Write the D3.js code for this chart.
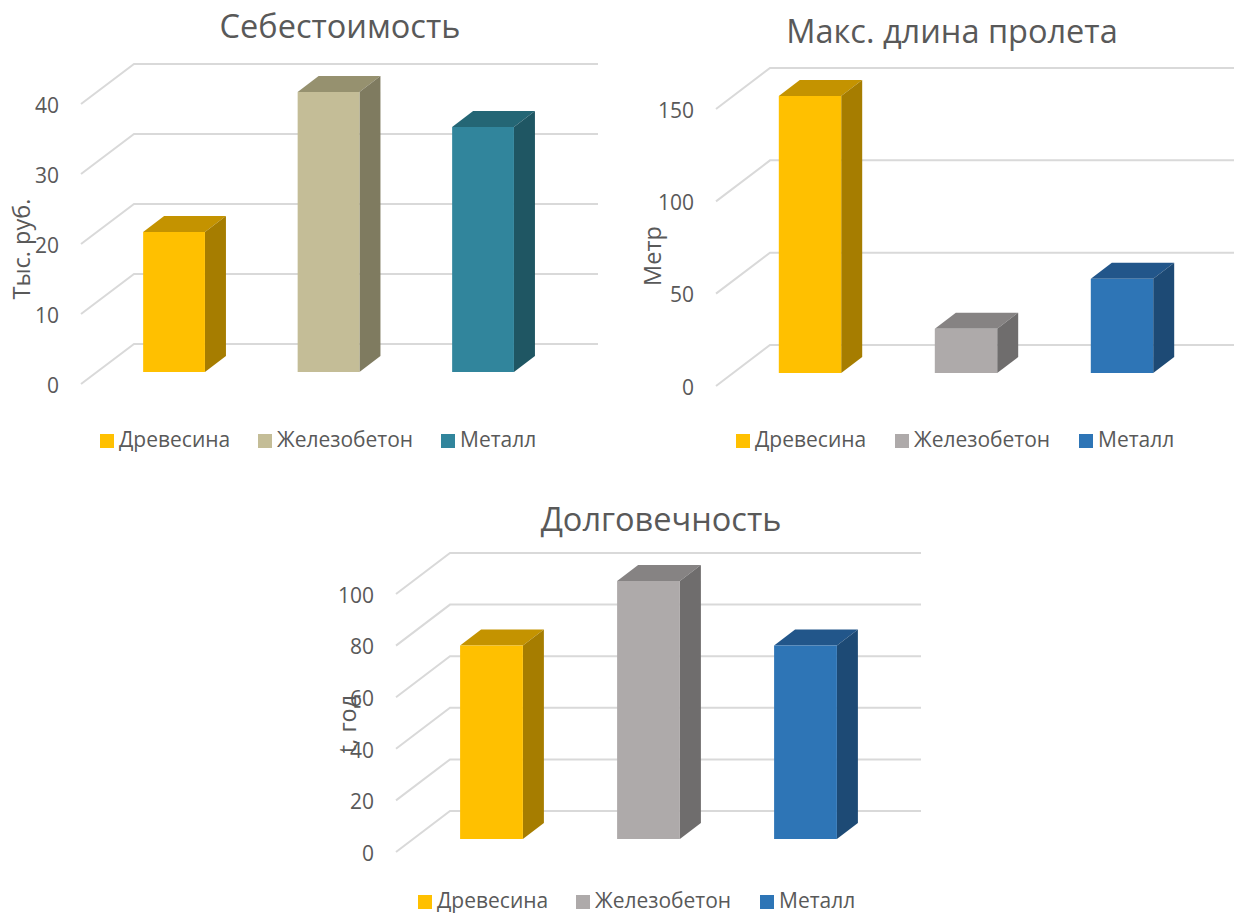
<!DOCTYPE html>
<html>
<head>
<meta charset="utf-8">
<script src="https://cdn.jsdelivr.net/npm/d3@7"></script>
<style>
html, body { margin: 0; padding: 0; background: #fff; }
svg { display: block; }
text { font-family: "Open Sans", sans-serif; fill: #595959; }
</style>
</head>
<body>
<svg id="chart" width="1234" height="913"></svg>
<script>
// values
var categories = ["Древесина", "Железобетон", "Металл"]

var costValues = [20, 40, 35]
var spanValues = [150, 24, 51]
var lifeValues = [75, 100, 75]

var costTicks = [0, 10, 20, 30, 40]
var spanTicks = [0, 50, 100, 150]
var lifeTicks = [0, 20, 40, 60, 80, 100]

// front, top and side faces of each bar
var costColors = [["#ffc000", "#c49300", "#a67d00"], ["#c4bd97", "#96916f", "#7f7b60"], ["#31859c", "#246675", "#1f5663"]]
var otherColors = [["#ffc000", "#c49300", "#a67d00"], ["#aeaaaa", "#868383", "#6f6d6d"], ["#2e75b6", "#22568a", "#1d4a75"]]

var svg = d3.select("#chart")

// depth of the fake 3d box
var depthX = 21, depthY = 16

function drawChart(o) {
    var g = svg.append("g")

    // y is the plane of the bar fronts, walls and axis are shifted from it
    var y = d3.scaleLinear().domain([0, d3.max(o.ticks)]).range(o.yRange)
    var x = d3.scaleBand().domain(categories).range(o.xRange).paddingInner(0.6).paddingOuter(0.3)

    var grid = g.append("g").attr("fill", "none").attr("stroke", "#d9d9d9").attr("stroke-width", 2)
    grid.selectAll("path").data(o.ticks).enter().append("path")
        .attr("d", function(t) {
            return "M" + o.axisX + "," + (y(t) + o.axisShift)
                + "L" + o.wallX + "," + (y(t) - 28)
                + "L" + o.wallEnd + "," + (y(t) - 28)
        })

    var axis = g.append("g")
        .attr("transform", "translate(" + (o.axisX - 13) + "," + (o.axisShift + 1.5) + ")")
        .call(d3.axisLeft(y).tickValues(o.ticks).tickSize(0).tickPadding(9))
    axis.select(".domain").remove()
    axis.selectAll("text").style("font-size", "21px").style("font-family", "'Open Sans', sans-serif").attr("fill", "#595959")

    var bars = g.selectAll(".bar").data(o.values).enter().append("g").attr("class", "bar")

    bars.append("path")
        .attr("fill", function(d, i) { return o.colors[i][1] })
        .attr("d", function(d, i) {
            var x0 = x(categories[i]), x1 = x0 + x.bandwidth(), t = y(d)
            return "M" + x0 + "," + t + "L" + (x0 + depthX) + "," + (t - depthY)
                + "L" + (x1 + depthX) + "," + (t - depthY) + "L" + x1 + "," + t + "Z"
        })
    bars.append("path")
        .attr("fill", function(d, i) { return o.colors[i][2] })
        .attr("d", function(d, i) {
            var x1 = x(categories[i]) + x.bandwidth(), t = y(d), b = y(0)
            return "M" + x1 + "," + t + "L" + (x1 + depthX) + "," + (t - depthY)
                + "L" + (x1 + depthX) + "," + (b - depthY) + "L" + x1 + "," + b + "Z"
        })
    bars.append("rect")
        .attr("fill", function(d, i) { return o.colors[i][0] })
        .attr("x", function(d, i) { return x(categories[i]) })
        .attr("y", function(d) { return y(d) })
        .attr("width", x.bandwidth())
        .attr("height", function(d) { return y(0) - y(d) })

    g.append("text")
        .attr("x", o.titleX).attr("y", o.titleY)
        .attr("text-anchor", "middle")
        .style("font-size", "32.5px")
        .text(o.title)

    g.append("text")
        .attr("transform", "translate(" + o.labelX + "," + o.labelY + ") rotate(-90)")
        .attr("text-anchor", "middle")
        .style("font-size", "23.5px")
        .text(o.label)

    var legend = g.selectAll(".legend").data(categories).enter().append("g").attr("class", "legend")
    legend.append("rect")
        .attr("x", function(d, i) { return o.legendX[i] })
        .attr("y", o.legendY)
        .attr("width", 14).attr("height", 14)
        .attr("fill", function(d, i) { return o.colors[i][0] })
    legend.append("text")
        .attr("x", function(d, i) { return o.legendX[i] + 19 })
        .attr("y", o.legendY + 13)
        .style("font-size", "21px")
        .text(function(d) { return d })
}

drawChart({
    title: "Себестоимость", titleX: 340, titleY: 38,
    label: "Тыс. руб.", labelX: 30, labelY: 249,
    values: costValues, ticks: costTicks, colors: costColors,
    yRange: [372, 92], xRange: [96.8, 560.3],
    axisX: 81, axisShift: 12, wallX: 134, wallEnd: 598,
    legendX: [100, 258, 441], legendY: 434
})

drawChart({
    title: "Макс. длина пролета", titleX: 952, titleY: 43,
    label: "Метр", labelX: 661, labelY: 256,
    values: spanValues, ticks: spanTicks, colors: otherColors,
    yRange: [373, 96], xRange: [732, 1200],
    axisX: 716, axisShift: 13, wallX: 770, wallEnd: 1234,
    legendX: [736, 895, 1079], legendY: 434
})

drawChart({
    title: "Долговечность", titleX: 661, titleY: 531,
    label: "t, год", labelX: 356, labelY: 724,
    values: lifeValues, ticks: lifeTicks, colors: otherColors,
    yRange: [839, 581], xRange: [413, 884],
    axisX: 396, axisShift: 13, wallX: 450, wallEnd: 921,
    legendX: [418, 576, 760], legendY: 895
})
</script>
</body>
</html>
